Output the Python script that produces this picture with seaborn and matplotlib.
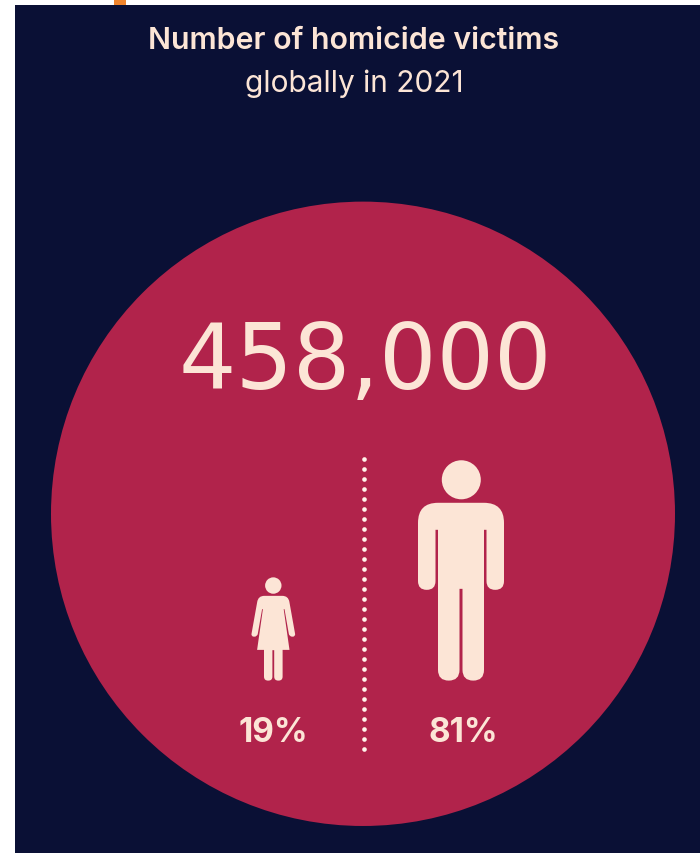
import numpy as np
import pandas as pd
import matplotlib
matplotlib.use("Agg")
import matplotlib.pyplot as plt
from matplotlib.patches import Circle, PathPatch, Rectangle
from matplotlib.path import Path
import seaborn as sns

# Values shown on the graphic
total_victims = 458000
groups = ["Women", "Men"]
shares = [19, 81]
title_lines = ["Number of homicide victims", "globally in 2021"]

# Colours
NAVY = "#0A1035"
CRIMSON = "#B1234B"
CREAM = "#FCE5D6"
ORANGE = "#F0852D"
FONT = "Inter"

# Pictogram outlines as (x, y, corner radius) in pixels from the top of the head
MAN = [(-43, 42, 20), (-43, 129, 8.7), (-25.5, 129, 8.7), (-25.5, 69, 0), (-23, 69, 0),
       (-23, 219.7, 10.7), (-1.5, 219.7, 10.7), (-1.5, 128, 0), (1.5, 128, 0),
       (1.5, 219.7, 10.7), (23, 219.7, 10.7), (23, 69, 0), (25.5, 69, 0),
       (25.5, 129, 8.7), (43, 129, 8.7), (43, 42, 20)]
WOMAN = [(-15, 18.7, 6), (-22.3, 59.5, 3), (-16, 59.5, 3), (-11.2, 32, 0), (-10.4, 32, 0),
         (-16.2, 72.7, 0), (-9.3, 72.7, 0), (-9.3, 103.4, 4), (-0.9, 103.4, 4),
         (-0.9, 73, 0), (0.9, 73, 0), (0.9, 103.4, 4), (9.3, 103.4, 4),
         (9.3, 72.7, 0), (16.2, 72.7, 0), (10.4, 32, 0), (11.2, 32, 0),
         (16, 59.5, 3), (22.3, 59.5, 3), (15, 18.7, 6)]


def rounded_path(points, origin):
    """Closed path through the points, each corner rounded by its radius."""
    pts = np.array([p[:2] for p in points], float) + origin
    radii = [p[2] for p in points]
    verts, codes = [], []
    n = len(pts)
    for i in range(n):
        cur, prev, nxt = pts[i], pts[i - 1], pts[(i + 1) % n]
        r = radii[i]
        if r == 0:
            verts.append(cur)
            codes.append(Path.LINETO if verts[:-1] else Path.MOVETO)
            continue
        a = cur + (prev - cur) / np.linalg.norm(prev - cur) * r
        b = cur + (nxt - cur) / np.linalg.norm(nxt - cur) * r
        verts.append(a)
        codes.append(Path.LINETO if verts[:-1] else Path.MOVETO)
        verts += [cur, b]
        codes += [Path.CURVE3, Path.CURVE3]
    verts.append(verts[0])
    codes.append(Path.CLOSEPOLY)
    return Path(verts, codes)


sns.set_theme(style="white")
plt.rcParams["font.family"] = [FONT, "DejaVu Sans"]

fig = plt.figure(figsize=(7.0, 8.535), dpi=100, facecolor="white")
ax = fig.add_axes([0, 0, 1, 1])
ax.set_xlim(0, 700)
ax.set_ylim(853, 0)
ax.axis("off")

# Panel, accent tab and main disc
ax.add_patch(Rectangle((15, 5), 685, 848, facecolor=NAVY, edgecolor="none", zorder=1))
ax.add_patch(Rectangle((114, 0), 12, 5, facecolor=ORANGE, edgecolor="none", zorder=1))
ax.add_patch(Circle((363, 514), 312, facecolor=CRIMSON, edgecolor="none", zorder=2))

# Headings
ax.text(354, 41, title_lines[0], ha="center", va="center", color=CREAM,
        fontsize=21.8, fontweight="semibold", zorder=5)
ax.text(354, 84, title_lines[1], ha="center", va="center", color=CREAM,
        fontsize=21.5, fontweight="regular", zorder=5)
ax.text(365, 364, f"{total_victims:,}", ha="center", va="center", color=CREAM,
        fontsize=65, fontweight="regular", family="DejaVu Sans", zorder=5)

# Dotted divider between the two groups
divider = pd.DataFrame({"x": 364.0, "y": np.arange(459, 750, 10.0)})
sns.scatterplot(data=divider, x="x", y="y", ax=ax, s=11, color="#FFF3EA",
                linewidth=0, zorder=4, legend=False)
ax.set_xlim(0, 700)
ax.set_ylim(853, 0)
ax.set_xlabel("")
ax.set_ylabel("")

# Pictograms with their percentages
layout = {"Women": (273.3, 577.3, WOMAN, (273.3, 585.7), 8.2, 273.5),
          "Men": (461, 461, MAN, (461.3, 480), 19.5, 463)}
for group, share in zip(groups, shares):
    cx, top, outline, head, head_r, label_x = layout[group]
    ax.add_patch(PathPatch(rounded_path(outline, (cx, top)), facecolor=CREAM,
                           edgecolor="none", zorder=3))
    ax.add_patch(Circle(head, head_r, facecolor=CREAM, edgecolor="none", zorder=3))
    ax.text(label_x, 733, f"{share}%", ha="center", va="center", color=CREAM,
            fontsize=24, fontweight="bold", zorder=5)

fig.savefig("out.png", dpi=100, facecolor="white")
